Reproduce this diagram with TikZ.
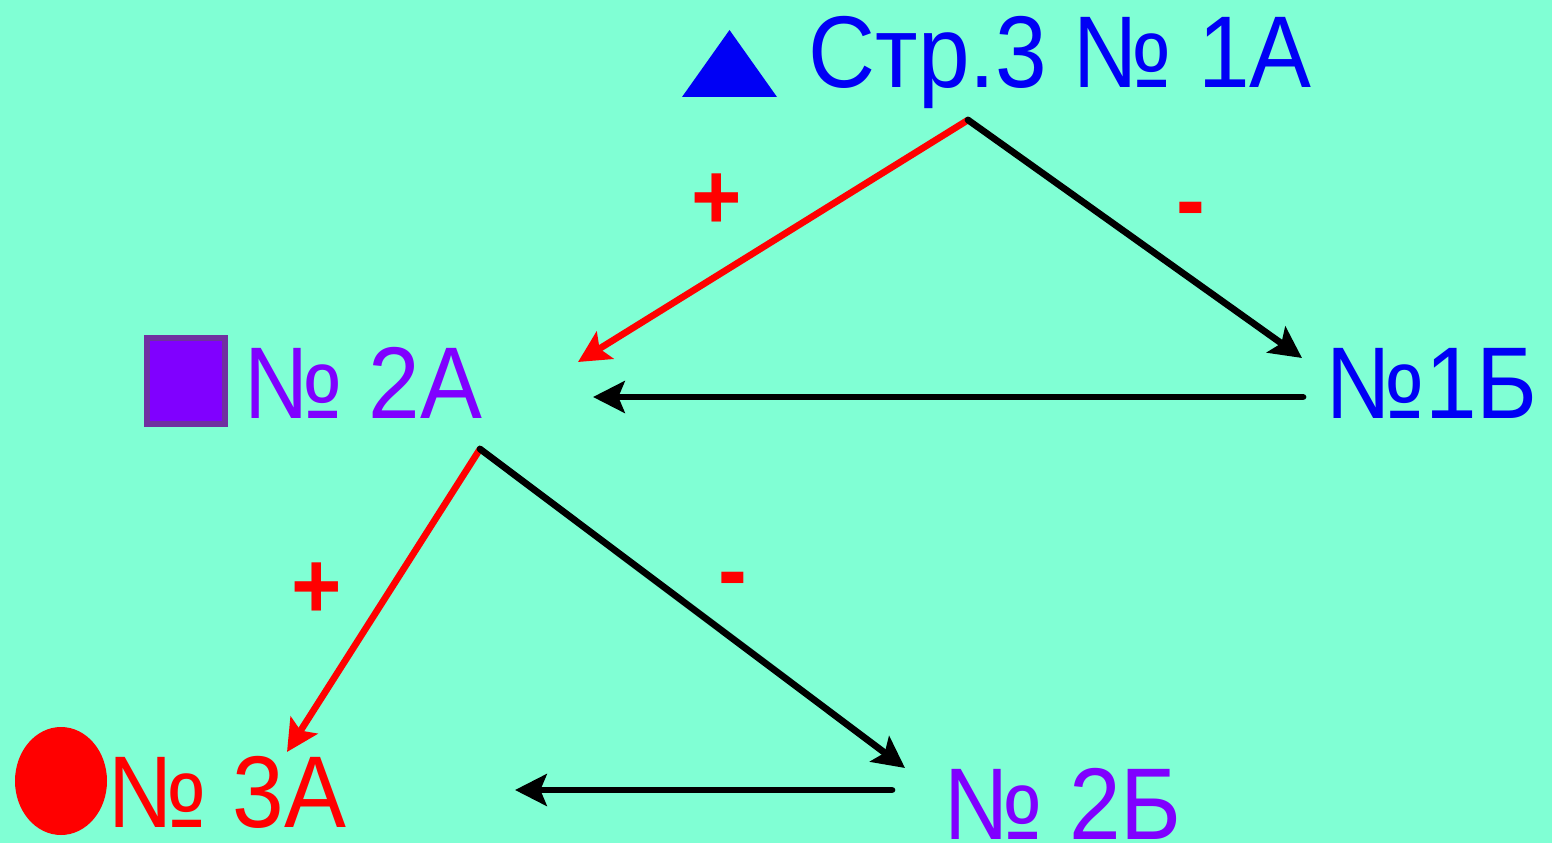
\documentclass[tikz,border=0pt]{standalone}
\usepackage{fontspec}
\setmainfont{Liberation Sans}
\newfontfamily\uzkij[FakeStretch=0.91]{Liberation Sans}
\usetikzlibrary{arrows.meta, positioning}
\definecolor{fonaqua}{RGB}{128,255,212}
\definecolor{sinij}{RGB}{0,0,245}
\definecolor{fiolet}{RGB}{128,0,255}
\definecolor{fioletram}{RGB}{112,48,160}
\definecolor{krasn}{RGB}{255,0,0}

\begin{document}
\begin{tikzpicture}[x=0.01cm, y=-0.01cm,
      lbl/.style={anchor=base west, inner sep=0pt,
                  font=\uzkij\fontsize{29}{29}\selectfont},
      znak/.style={anchor=base, inner sep=0pt, text=krasn,
                   font=\uzkij\fontsize{27}{27}\selectfont\bfseries},
      redarr/.style={draw=krasn, line width=1.9pt, line cap=round,
                     -{Stealth[length=9pt, width=9pt, inset=1.8pt]}},
      blackarr/.style={draw=black, line width=1.9pt, line cap=round,
                       -{Stealth[length=9pt, width=9pt, inset=1.8pt]}},
      >=Stealth]
    % background
    \fill[fonaqua] (0,0) rectangle (1552,843);
    \useasboundingbox (0,0) rectangle (1552,843);

    % markers
    \fill[sinij] (682,97) -- (729.5,30) -- (777,97) -- cycle;
    \draw[fioletram, line width=1.5pt, fill=fiolet] (147,338) rectangle (225,424);
    \fill[krasn] (61,781) ellipse (46 and 54);

    % labels
    \node[lbl, text=sinij]  (n1a) at (808,88)  {Стр.3 № 1А};
    \node[lbl, text=fiolet] (n2a) at (243,418) {№ 2А};
    \node[lbl, text=sinij]  (n1b) at (1325,418) {№1Б};
    \node[lbl, text=krasn]  (n3a) at (107,827) {№ 3А};
    \node[lbl, text=fiolet] (n2b) at (943,839) {№ 2Б};

    % branch points and arrow ends
    \coordinate (v1) at (968,120);
    \coordinate (v2) at (480,449);
    \coordinate (e1a) at (578,362);
    \coordinate (e1b) at (1302,358);
    \coordinate (s1b) at (1303,397);
    \coordinate (e2a) at (593,397);
    \coordinate (e3a) at (287,752);
    \coordinate (e2b) at (905,768);
    \coordinate (s2b) at (892,790);
    \coordinate (e3b) at (515,790);

    \draw[redarr]   (v1) -- (e1a);
    \draw[blackarr] (v1) -- (e1b);
    \draw[blackarr] (s1b) -- (e2a);
    \draw[redarr]   (v2) -- (e3a);
    \draw[blackarr] (v2) -- (e2b);
    \draw[blackarr] (s2b) -- (e3b);

    % signs
    \node[znak] (p1) at (717,230) {+};
    \node[znak] (m1) at (1191,233) {-};
    \node[znak] (p2) at (317,618) {+};
    \node[znak] (m2) at (733,602) {-};
  \end{tikzpicture}
\end{document}
